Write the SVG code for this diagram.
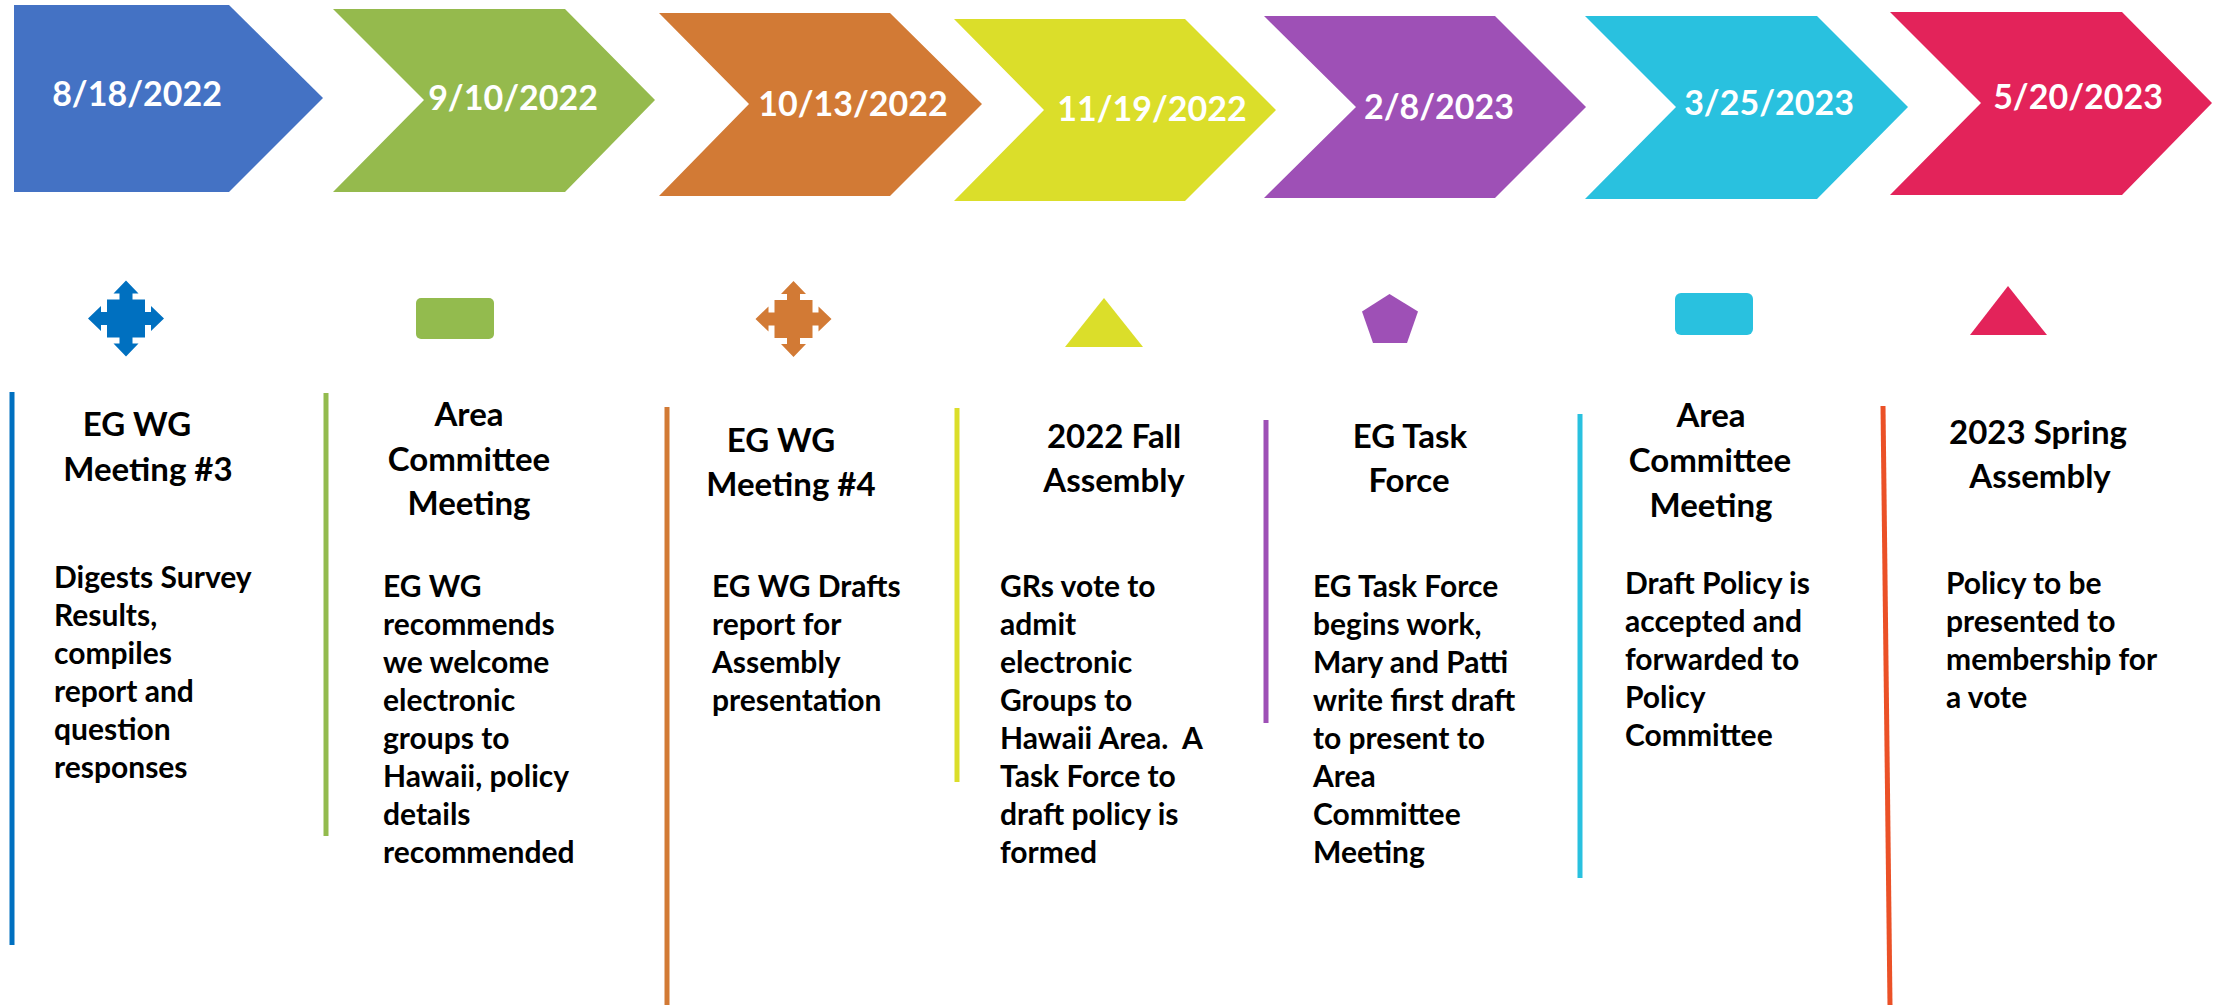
<svg xmlns="http://www.w3.org/2000/svg" xmlns:xlink="http://www.w3.org/1999/xlink" width="2217" height="1005" viewBox="0 0 2217 1005">
<style>
.date{font-family:Lato,"Liberation Sans",sans-serif;font-weight:bold;font-size:34px;fill:#fff;text-anchor:middle}
.head{font-family:Lato,"Liberation Sans",sans-serif;font-weight:bold;font-size:33px;fill:#000;text-anchor:middle}
.body{font-family:Lato,"Liberation Sans",sans-serif;font-weight:bold;font-size:30px;fill:#000}
.vl{stroke-width:5;fill:none}
</style>
<defs>
<path id="quad" d="M0,-38 L12.5,-25 L6.5,-25 L6.5,-19 L19,-19 L19,-6.5 L25,-6.5 L25,-12.5 L38,0 L25,12.5 L25,6.5 L19,6.5 L19,19 L6.5,19 L6.5,25 L12.5,25 L0,38 L-12.5,25 L-6.5,25 L-6.5,19 L-19,19 L-19,6.5 L-25,6.5 L-25,12.5 L-38,0 L-25,-12.5 L-25,-6.5 L-19,-6.5 L-19,-19 L-6.5,-19 L-6.5,-25 L-12.5,-25 Z"/>
</defs>
<rect width="2217" height="1005" fill="#fff"/>

<g id="step1">
<polygon points="14,5 229,5 323,98 229,192 14,192" fill="#4472C4"/>
<text class="date" x="137" y="106">8/18/2022</text>
</g>
<g id="step2">
<polygon points="333,9 565,9 655,100 565,192 333,192 424,100" fill="#95BA4D"/>
<text class="date" x="513" y="110">9/10/2022</text>
</g>
<g id="step3">
<polygon points="659,13 890,13 982,104 890,196 659,196 749,104" fill="#D27A35"/>
<text class="date" x="853" y="116">10/13/2022</text>
</g>
<g id="step4">
<polygon points="954,19 1185,19 1276,110 1185,201 954,201 1044,110" fill="#DBDE2A"/>
<text class="date" x="1152" y="121">11/19/2022</text>
</g>
<g id="step5">
<polygon points="1264,16 1495,16 1586,107 1495,198 1264,198 1356,107" fill="#9E50B6"/>
<text class="date" x="1439" y="119">2/8/2023</text>
</g>
<g id="step6">
<polygon points="1585,16 1817,16 1908,107 1817,199 1585,199 1676,107" fill="#29C1DF"/>
<text class="date" x="1769" y="115">3/25/2023</text>
</g>
<g id="step7">
<polygon points="1890,12 2122,12 2212,103 2122,195 1890,195 1981,103" fill="#E3235A"/>
<text class="date" x="2078" y="109">5/20/2023</text>
</g>

<g id="event1">
<use xlink:href="#quad" href="#quad" x="126" y="318.5" fill="#0070C0"/>
<line class="vl" x1="12" y1="392" x2="12" y2="945" stroke="#0070C0"/>
<text class="head"><tspan x="137" y="436">EG WG</tspan><tspan x="148" y="481">Meeting #3</tspan></text>
<text class="body"><tspan x="54" y="588">Digests Survey</tspan><tspan x="54" y="626">Results,</tspan><tspan x="54" y="664">compiles</tspan><tspan x="54" y="702">report and</tspan><tspan x="54" y="740">question</tspan><tspan x="54" y="778">responses</tspan></text>
</g>

<g id="event2">
<rect x="416" y="298" width="78" height="41" rx="5" fill="#93BB4E"/>
<line class="vl" x1="326" y1="393" x2="326" y2="836" stroke="#93BB4E"/>
<text class="head"><tspan x="469" y="426">Area</tspan><tspan x="469" y="471">Committee</tspan><tspan x="469" y="515">Meeting</tspan></text>
<text class="body"><tspan x="383" y="597">EG WG</tspan><tspan x="383" y="635">recommends</tspan><tspan x="383" y="673">we welcome</tspan><tspan x="383" y="711">electronic</tspan><tspan x="383" y="749">groups to</tspan><tspan x="383" y="787">Hawaii, policy</tspan><tspan x="383" y="825">details</tspan><tspan x="383" y="863">recommended</tspan></text>
</g>

<g id="event3">
<use xlink:href="#quad" href="#quad" x="793.5" y="319" fill="#D27A35"/>
<line class="vl" x1="667" y1="407" x2="667" y2="1005" stroke="#D27A35"/>
<text class="head"><tspan x="781" y="452">EG WG</tspan><tspan x="791" y="496">Meeting #4</tspan></text>
<text class="body"><tspan x="712" y="597">EG WG Drafts</tspan><tspan x="712" y="635">report for</tspan><tspan x="712" y="673">Assembly</tspan><tspan x="712" y="711">presentation</tspan></text>
</g>

<g id="event4">
<polygon points="1104,298 1143,347 1065,347" fill="#DBDE2A"/>
<line class="vl" x1="957" y1="408" x2="957" y2="782" stroke="#DBDE2A"/>
<text class="head"><tspan x="1114" y="448">2022 Fall</tspan><tspan x="1114" y="492">Assembly</tspan></text>
<text class="body"><tspan x="1000" y="597">GRs vote to</tspan><tspan x="1000" y="635">admit</tspan><tspan x="1000" y="673">electronic</tspan><tspan x="1000" y="711">Groups to</tspan><tspan x="1000" y="749" xml:space="preserve">Hawaii Area.  A</tspan><tspan x="1000" y="787">Task Force to</tspan><tspan x="1000" y="825">draft policy is</tspan><tspan x="1000" y="863">formed</tspan></text>
</g>

<g id="event5">
<polygon points="1389.5,294 1418,311.5 1407,343 1373,343 1362,311.5" fill="#9E50B6"/>
<line class="vl" x1="1266" y1="420" x2="1266" y2="723" stroke="#9E50B6"/>
<text class="head"><tspan x="1410" y="448">EG Task</tspan><tspan x="1409" y="492">Force</tspan></text>
<text class="body"><tspan x="1313" y="597">EG Task Force</tspan><tspan x="1313" y="635">begins work,</tspan><tspan x="1313" y="673">Mary and Patti</tspan><tspan x="1313" y="711">write first draft</tspan><tspan x="1313" y="749">to present to</tspan><tspan x="1313" y="787">Area</tspan><tspan x="1313" y="825">Committee</tspan><tspan x="1313" y="863">Meeting</tspan></text>
</g>

<g id="event6">
<rect x="1675" y="293" width="78" height="42" rx="6" fill="#29C1DF"/>
<line class="vl" x1="1580" y1="414" x2="1580" y2="878" stroke="#29C1DF"/>
<text class="head"><tspan x="1711" y="427">Area</tspan><tspan x="1710" y="472">Committee</tspan><tspan x="1711" y="517">Meeting</tspan></text>
<text class="body"><tspan x="1625" y="594">Draft Policy is</tspan><tspan x="1625" y="632">accepted and</tspan><tspan x="1625" y="670">forwarded to</tspan><tspan x="1625" y="708">Policy</tspan><tspan x="1625" y="746">Committee</tspan></text>
</g>

<g id="event7">
<polygon points="2008,286 2047,335 1970,335" fill="#E3235A"/>
<line class="vl" x1="1883" y1="406" x2="1890" y2="1005" stroke="#EB5127"/>
<text class="head"><tspan x="2038" y="444">2023 Spring</tspan><tspan x="2040" y="488">Assembly</tspan></text>
<text class="body"><tspan x="1946" y="594">Policy to be</tspan><tspan x="1946" y="632">presented to</tspan><tspan x="1946" y="670">membership for</tspan><tspan x="1946" y="708">a vote</tspan></text>
</g>
</svg>
